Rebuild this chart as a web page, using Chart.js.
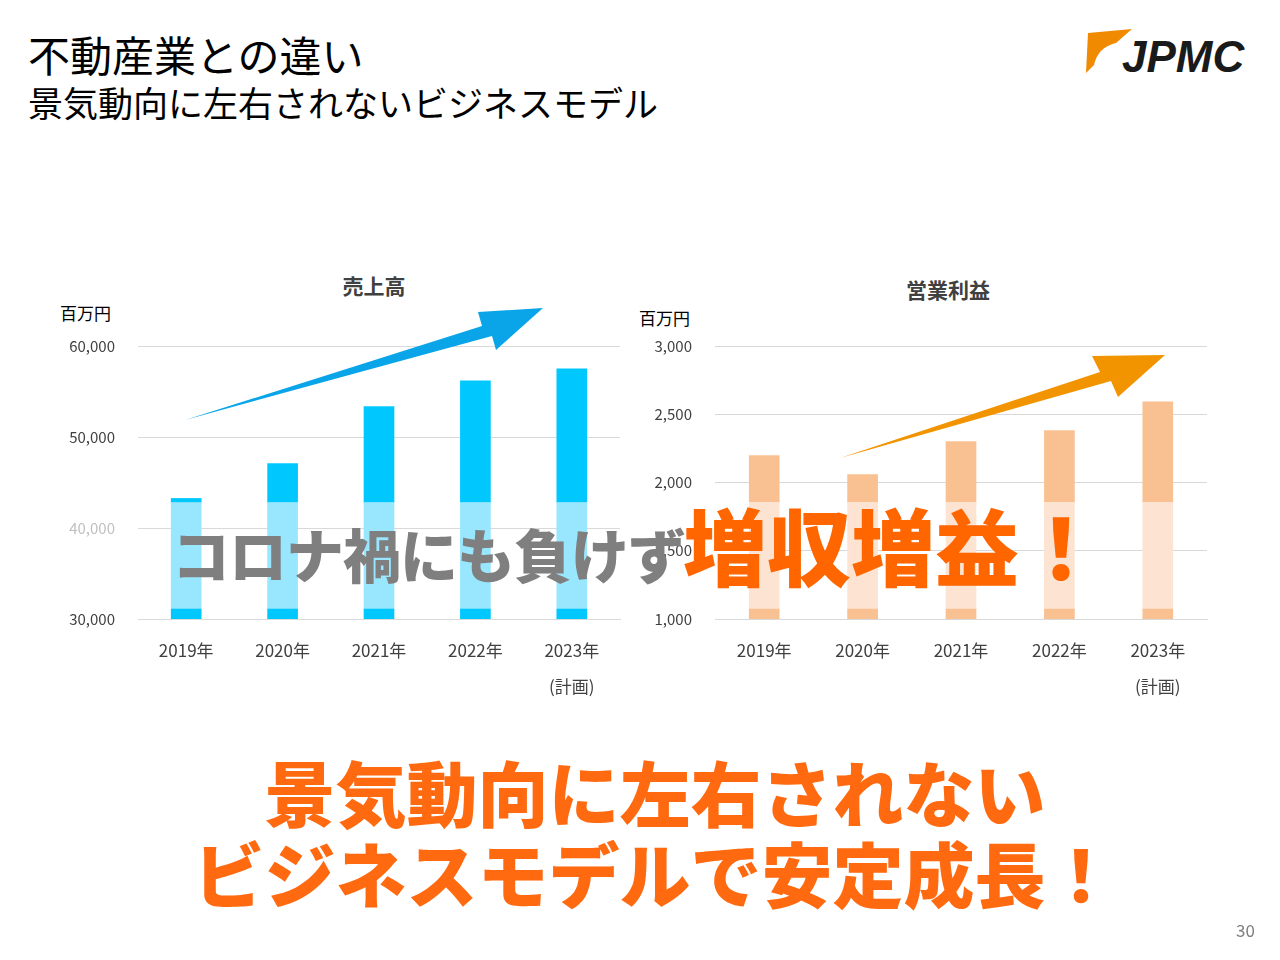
<!DOCTYPE html>
<html><head><meta charset="utf-8">
<script src="https://cdn.jsdelivr.net/npm/chart.js"></script>
<style>
body{margin:0;width:1280px;height:960px;background:#fff;position:relative;overflow:hidden;font-family:"Noto Sans CJK JP","Noto Sans",sans-serif;}
.t{position:absolute;white-space:nowrap;line-height:1;}
canvas{position:absolute;}
</style></head><body>
<div class="t" style="left:28px;top:33px;font-size:42px;color:#000;">不動産業との違い</div>
<div class="t" style="left:28px;top:84px;font-size:35px;color:#000;">景気動向に左右されないビジネスモデル</div>
<svg style="position:absolute;left:1080px;top:25px" width="180" height="55">
<path d="M8 8 L52 4 L36 18 Q18 22 14 40 L6 48 Z" fill="#f08a00"/>
<text x="42" y="47" font-family="Liberation Sans" font-weight="bold" font-style="italic" font-size="44" fill="#1a1a1a">JPMC</text>
</svg>
<div class="t" style="left:0;width:748px;top:275px;text-align:center;font-size:21px;font-weight:bold;color:#404040;">売上高</div>
<div class="t" style="left:0;width:1896px;top:279px;text-align:center;font-size:21px;font-weight:bold;color:#404040;">営業利益</div>
<div class="t" style="left:60px;top:304px;font-size:17px;color:#000;">百万円</div>
<div class="t" style="left:639px;top:309px;font-size:17px;color:#000;">百万円</div>
<canvas id="c1" style="left:48px;top:314px;"></canvas>
<canvas id="c2" style="left:625px;top:314px;"></canvas>
<svg style="position:absolute;left:0;top:0" width="1280" height="960">
<polygon points="185,420 482,326 478,312 543,308 496,350 492,336" fill="#0aa5e8"/>
<polygon points="840,458 1100,372 1092,356 1165,355 1118,397 1111,381" fill="#f29400"/>
</svg>
<div class="t" style="left:172px;top:524px;font-size:58px;font-weight:900;color:#7f7f7f;letter-spacing:-1px;">コロナ禍にも負けず</div>
<div class="t" style="left:683px;top:502px;font-size:84px;font-weight:900;color:#ff6600;">増収増益！</div>
<div class="t" style="left:0;width:1310px;top:755px;text-align:center;font-size:71px;font-weight:900;color:#ff6a10;">景気動向に左右されない</div>
<div class="t" style="left:0;width:1310px;top:836px;text-align:center;font-size:71px;font-weight:900;color:#ff6a10;">ビジネスモデルで安定成長！</div>
<div class="t" style="left:1236px;top:921px;font-size:17px;color:#7f7f7f;">30</div>
<script>
const years = [['2019年'],['2020年'],['2021年'],['2022年'],['2023年','(計画)']];
const salesTotal = [43250, 47090, 53330, 56180, 57490];
const salesBreakLow = 31100, salesBreakHigh = 42800;
const profitTotal = [2197, 2058, 2299, 2380, 2591];
const profitBreakLow = 1073, profitBreakHigh = 1854;

function makeChart(id, w, totals, lo, hi, min, max, step, dark, light, fadedTick){
  const cv=document.getElementById(id); cv.width=w; cv.height=395;
  new Chart(cv, {
    type:'bar',
    data:{labels:years, datasets:[
      {data:totals.map(()=>lo), backgroundColor:dark, barThickness:30},
      {data:totals.map(()=>hi-lo), backgroundColor:light, barThickness:30},
      {data:totals.map(v=>v-hi), backgroundColor:dark, barThickness:30}
    ]},
    options:{responsive:false, animation:false, devicePixelRatio:1,
      plugins:{legend:{display:false},tooltip:{enabled:false}},
      layout:{padding:{top:10,right:10,left:0,bottom:0}},
      scales:{
        x:{stacked:true, grid:{display:false}, border:{color:'#d9d9d9'},
           ticks:{color:'#404040',font:{size:17,family:'Noto Sans CJK JP',lineHeight:2.1},padding:6},
           afterFit:a=>{a.height=90;}},
        y:{stacked:true, min:min, max:max, grid:{color:'#d9d9d9', drawTicks:false}, border:{display:false},
           ticks:{stepSize:step, padding:23, font:{size:15,family:'Noto Sans CJK JP'},
             color:c=>c.tick && c.tick.value===fadedTick ? '#bfbfbf' : '#404040',
             callback:v=>v.toLocaleString('en-US')},
           afterFit:a=>{a.width=90;}}
      }}
  });
}
makeChart('c1', 582, salesTotal, salesBreakLow, salesBreakHigh, 30000, 60000, 10000, '#00c8ff', '#99e6ff', 40000);
makeChart('c2', 592, profitTotal, profitBreakLow, profitBreakHigh, 1000, 3000, 500, '#f9c092', '#fde4d2', -1);
</script>
</body></html>
